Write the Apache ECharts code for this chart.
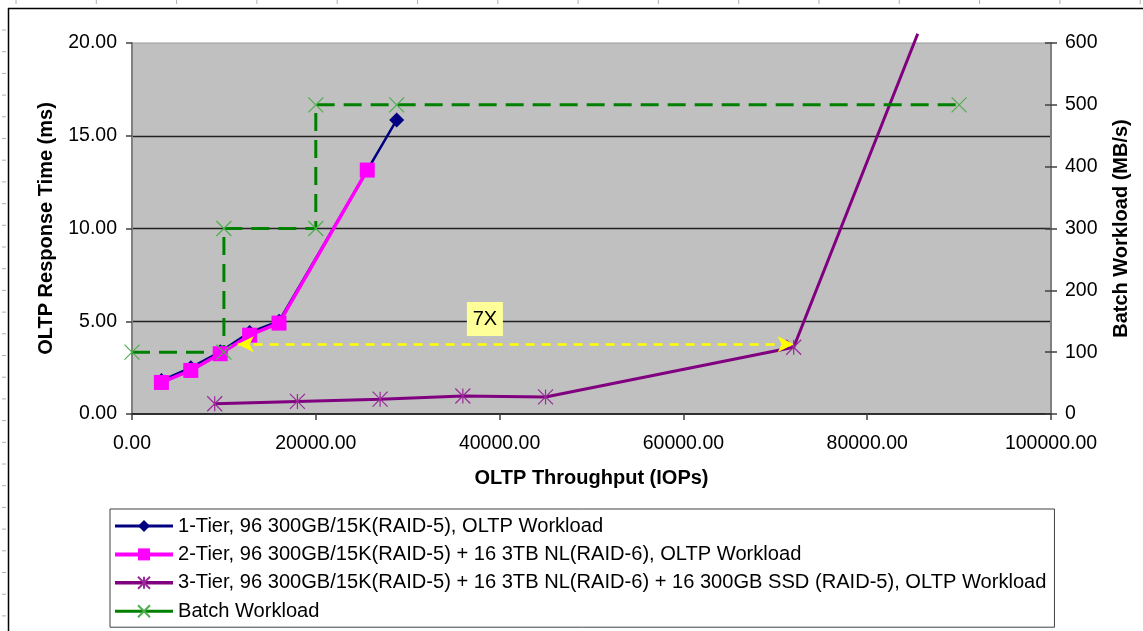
<!DOCTYPE html>
<html>
<head>
<meta charset="utf-8">
<script src="https://cdn.jsdelivr.net/npm/echarts@6/dist/echarts.min.js"></script>
<style>
  html, body { margin: 0; padding: 0; background: #ffffff; }
  #chart { width: 1143px; height: 631px; }
</style>
</head>
<body>
<div id="chart"></div>
<script>
// Series names as shown in the legend
const seriesNames = [
  '1-Tier, 96 300GB/15K(RAID-5), OLTP Workload',
  '2-Tier, 96 300GB/15K(RAID-5) + 16 3TB NL(RAID-6), OLTP Workload',
  '3-Tier, 96 300GB/15K(RAID-5) + 16 3TB NL(RAID-6) + 16 300GB SSD (RAID-5), OLTP Workload',
  'Batch Workload'
];

// OLTP throughput (IOPs) vs response time (ms)
const tier1 = [[3200, 1.8], [6400, 2.5], [9600, 3.35], [12800, 4.4], [16000, 5.0], [28800, 15.85]];
const tier2 = [[3200, 1.7], [6400, 2.35], [9600, 3.25], [12800, 4.25], [16000, 4.9], [25600, 13.15]];
const tier3 = [[9000, 0.55], [18000, 0.68], [27000, 0.8], [36000, 0.97], [45000, 0.92], [72000, 3.6], [85500, 20.5]];

// Batch workload (MB/s, right axis) vs OLTP throughput
const batch = [[0, 100], [10000, 100], [10000, 300], [20000, 300], [20000, 500], [28800, 500], [90000, 500]];

// Axis ranges
const xRange = [0, 100000, 20000];
const yLeftRange = [0, 20, 5];
const yRightRange = [0, 600, 100];

// "7X" improvement annotation: arrow span (IOPs) at a response-time level, and label anchor
const arrowSpan = [11500, 72000];
const arrowLevel = 3.76;
const gainLabel = '7X';
const gainLabelAt = [38400, 5.12];

const FONT = '"Liberation Sans", Arial, sans-serif';
const X_MARK = 'path://M0 0L10 10M10 0L0 10';
const STAR_MARK = 'path://M0 0L10 10M10 0L0 10M5 0L5 10';

const chart = echarts.init(document.getElementById('chart'), null, { renderer: 'canvas' });

// Points above the left axis maximum keep their line segment but show no marker
const tier3Data = tier3.map(p => p[1] > yLeftRange[1] ? { value: p, symbol: 'none' } : p);

// Word-style layout marks around the chart frame
const rulerMarks = [];
for (let x = 16; x < 1143; x += 80.3) {
  rulerMarks.push({ type: 'line', shape: { x1: x, y1: 0, x2: x, y2: 4 }, style: { stroke: '#b0b0b0', lineWidth: 1 } });
}
for (let y = 30; y < 631; y += 21.7) {
  rulerMarks.push({ type: 'line', shape: { x1: 2, y1: y, x2: 6, y2: y }, style: { stroke: '#b0b0b0', lineWidth: 1 } });
}

const option = {
  animation: false,
  backgroundColor: '#ffffff',
  textStyle: { fontFamily: FONT },
  grid: {
    left: 132, right: 92, top: 43, bottom: 217,
    show: true, backgroundColor: '#C0C0C0', borderColor: '#9a9a9a', borderWidth: 1
  },
  xAxis: {
    type: 'value', min: xRange[0], max: xRange[1], interval: xRange[2],
    name: 'OLTP Throughput (IOPs)', nameLocation: 'middle', nameGap: 54,
    nameTextStyle: { fontFamily: FONT, fontSize: 20, fontWeight: 'bold', color: '#000' },
    axisLine: { show: true, onZero: false, lineStyle: { color: '#000', width: 1.5 } },
    axisTick: { show: true, length: 6, lineStyle: { color: '#404040', width: 1.5 } },
    axisLabel: { fontFamily: FONT, fontSize: 19.5, color: '#000', margin: 20, formatter: v => v.toFixed(2) },
    splitLine: { show: false }
  },
  yAxis: [
    {
      type: 'value', position: 'left', min: yLeftRange[0], max: yLeftRange[1], interval: yLeftRange[2],
      name: 'OLTP Response Time (ms)', nameLocation: 'middle', nameGap: 76,
      nameTextStyle: { fontFamily: FONT, fontSize: 20, fontWeight: 'bold', color: '#000' },
      axisLine: { show: true, lineStyle: { color: '#808080', width: 2 } },
      axisTick: { show: true, length: 6, lineStyle: { color: '#404040', width: 1.5 } },
      axisLabel: { fontFamily: FONT, fontSize: 19.5, color: '#000', margin: 15, formatter: v => v.toFixed(2) },
      splitLine: { show: true, showMinLine: false, showMaxLine: false, lineStyle: { color: '#222', width: 1.3 } }
    },
    {
      type: 'value', position: 'right', min: yRightRange[0], max: yRightRange[1], interval: yRightRange[2],
      name: 'Batch Workload (MB/s)', nameLocation: 'middle', nameGap: 60,
      nameTextStyle: { fontFamily: FONT, fontSize: 20, fontWeight: 'bold', color: '#000' },
      axisLine: { show: true, lineStyle: { color: '#808080', width: 2 } },
      axisTick: { show: true, length: 6, lineStyle: { color: '#404040', width: 1.5 } },
      axisLabel: { fontFamily: FONT, fontSize: 19.5, color: '#000', margin: 14 },
      splitLine: { show: false }
    },
    {
      // inner half of the crossing ticks on the right axis
      type: 'value', position: 'right', min: yRightRange[0], max: yRightRange[1], interval: yRightRange[2],
      axisLine: { show: false },
      axisTick: { show: true, inside: true, length: 6, lineStyle: { color: '#404040', width: 1.5 } },
      axisLabel: { show: false },
      splitLine: { show: false }
    }
  ],
  legend: {
    orient: 'vertical', left: 110, top: 509,
    backgroundColor: '#ffffff', borderColor: '#404040', borderWidth: 1,
    padding: [7, 8, 6, 3], itemGap: 8.4, itemWidth: 58, itemHeight: 15,
    textStyle: { fontFamily: FONT, fontSize: 20.1, color: '#000' },
    data: [
      { name: seriesNames[0], lineStyle: { width: 3 } },
      { name: seriesNames[1], lineStyle: { width: 4 } },
      { name: seriesNames[2], lineStyle: { width: 3.5 } },
      { name: seriesNames[3], lineStyle: { width: 3, type: 'solid' } }
    ]
  },
  series: [
    {
      name: seriesNames[0], type: 'line', data: tier1,
      yAxisIndex: 0,
      symbol: 'diamond', symbolSize: 15,
      itemStyle: { color: '#000080' },
      lineStyle: { color: '#000080', width: 2.5 }
    },
    {
      name: seriesNames[1], type: 'line', data: tier2,
      yAxisIndex: 0,
      symbol: 'rect', symbolSize: 15,
      itemStyle: { color: '#FF00FF' },
      lineStyle: { color: '#FF00FF', width: 3.5 },
      markLine: {
        silent: true,
        symbol: ['arrow', 'arrow'], symbolSize: [12, 16],
        lineStyle: { color: '#FFFF00', type: [9, 7], width: 2.5 },
        label: { show: false },
        emphasis: { disabled: true },
        data: [[{ coord: [arrowSpan[0], arrowLevel] }, { coord: [arrowSpan[1], arrowLevel] }]]
      },
      markPoint: {
        silent: true,
        symbol: 'rect', symbolSize: [36, 34],
        itemStyle: { color: '#FFFF99' },
        label: { show: true, formatter: gainLabel, fontFamily: FONT, fontSize: 20, color: '#000' },
        data: [{ coord: gainLabelAt }]
      }
    },
    {
      name: seriesNames[2], type: 'line', data: tier3Data,
      yAxisIndex: 0, clip: false,
      symbol: STAR_MARK, symbolSize: 15, symbolKeepAspect: true,
      itemStyle: { color: 'rgba(0,0,0,0)', borderColor: '#9a2a9a', borderWidth: 1.2 },
      lineStyle: { color: '#800080', width: 3 }
    },
    {
      name: seriesNames[3], type: 'line', data: batch,
      yAxisIndex: 1,
      symbol: X_MARK, symbolSize: 15, symbolKeepAspect: true,
      itemStyle: { color: 'rgba(0,0,0,0)', borderColor: '#4caf4c', borderWidth: 1.2 },
      lineStyle: { color: '#008000', width: 3, type: [18, 9] }
    }
  ],
  graphic: [
    // chart frame
    { type: 'line', shape: { x1: 8, y1: 8.5, x2: 1143, y2: 8.5 }, style: { stroke: '#000', lineWidth: 1.5 }, z: 100 },
    { type: 'line', shape: { x1: 8.5, y1: 8, x2: 8.5, y2: 631 }, style: { stroke: '#000', lineWidth: 1.5 }, z: 100 }
  ].concat(rulerMarks)
};

chart.setOption(option);
</script>
</body>
</html>
